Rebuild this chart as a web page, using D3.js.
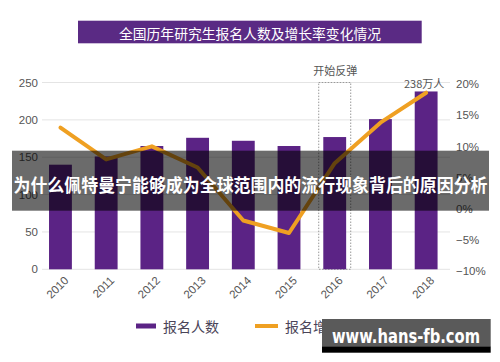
<!DOCTYPE html>
<html><head><meta charset="utf-8">
<script src="https://cdn.jsdelivr.net/npm/d3@7"></script>
<style>
html,body{margin:0;padding:0;background:#fff;}
svg{display:block;font-family:"Noto Sans CJK SC","Noto Sans",sans-serif;}
</style></head>
<body>
<svg id="c" width="500" height="362"></svg>
<script>
const years = ["2010","2011","2012","2013","2014","2015","2016","2017","2018"];
const applicants = [140, 151, 165, 176, 172, 165, 177, 201, 238];
const growth = [13.0, 7.9, 10.0, 6.6, -1.9, -3.9, 7.3, 13.8, 18.6];
const leftTicks = [0, 50, 100, 150, 200, 250];
const rightTicks = [-10, -5, 0, 5, 10, 15, 20];
const title = "全国历年研究生报名人数及增长率变化情况";
const overlayText = "为什么佩特曼宁能够成为全球范围内的流行现象背后的原因分析";
const siteText = "www.hans-fb.com";

const svg = d3.select("#c");
const purple = "#5b2385", orange = "#efa022", textC = "#555";

const x = d3.scaleBand().domain(years).range([37.6, 449]).paddingInner(0.5).paddingOuter(0.25);
const yL = d3.scaleLinear().domain([0, 250]).range([269.3, 82.5]);
const yR = d3.scaleLinear().domain([-10, 20]).range([271, 84]);

// title
svg.append("rect").attr("x", 78).attr("y", 20.7).attr("width", 343.7).attr("height", 22.6).attr("fill", "#5a2a84");
svg.append("text").attr("x", 250).attr("y", 32.5).attr("text-anchor", "middle").attr("dominant-baseline", "central")
  .attr("fill", "#fff").attr("font-size", 14).attr("textLength", 262).attr("lengthAdjust", "spacingAndGlyphs").text(title);

// grid
svg.append("g").selectAll("line").data(leftTicks).join("line")
  .attr("x1", 42).attr("x2", 450).attr("y1", d => yL(d)).attr("y2", d => yL(d))
  .attr("stroke", "#e4e4e4").attr("stroke-width", 1);

// left axis
const gl = svg.append("g").attr("transform", "translate(42,0)")
  .call(d3.axisLeft(yL).tickValues(leftTicks).tickSize(0).tickPadding(4));
gl.select(".domain").remove();
gl.selectAll("text").attr("font-size", 11.5).attr("fill", textC).attr("font-family", "Liberation Sans, Arial, sans-serif");

// right axis
const gr = svg.append("g").attr("transform", "translate(452,0)")
  .call(d3.axisRight(yR).tickValues(rightTicks).tickSize(0).tickPadding(4).tickFormat(d => (d < 0 ? "\u2212" + (-d) : d) + "%"));
gr.select(".domain").remove();
gr.selectAll("text").attr("font-size", 11.5).attr("fill", textC).attr("font-family", "Liberation Sans, Arial, sans-serif");

// dashed highlight box for 2016
const bx = x("2016") + x.bandwidth() / 2;
svg.append("rect").attr("x", bx - 16).attr("y", yL(250)).attr("width", 32).attr("height", yL(0) - yL(250))
  .attr("fill", "none").attr("stroke", "#999").attr("stroke-width", 1).attr("stroke-dasharray", "1.5,1.5");
svg.append("text").attr("x", bx + 0.5).attr("y", 70).attr("text-anchor", "middle").attr("dominant-baseline", "central")
  .attr("font-size", 11).attr("fill", textC).text("开始反弹");

// bars
svg.append("g").selectAll("rect").data(years).join("rect")
  .attr("x", d => x(d)).attr("width", x.bandwidth())
  .attr("y", (d, i) => yL(applicants[i])).attr("height", (d, i) => yL(0) - yL(applicants[i]))
  .attr("fill", purple);

// line
const line = d3.line().x((d, i) => x(years[i]) + x.bandwidth() / 2).y(d => yR(d));
svg.append("path").datum(growth).attr("d", line).attr("fill", "none")
  .attr("stroke", orange).attr("stroke-width", 4).attr("stroke-linejoin", "round").attr("stroke-linecap", "round");

// last label
svg.append("text").attr("x", x("2018") + x.bandwidth() / 2 - 2).attr("y", 82.5).attr("text-anchor", "middle")
  .attr("dominant-baseline", "central").attr("font-size", 11).attr("fill", textC).text(applicants[8] + "万人");

// x axis labels
const gx = svg.append("g").attr("transform", `translate(0,${yL(0)})`)
  .call(d3.axisBottom(x).tickSize(0).tickPadding(0));
gx.select(".domain").remove();
gx.selectAll("text").attr("font-size", 11.5).attr("fill", textC).attr("font-family", "Liberation Sans, Arial, sans-serif")
  .attr("text-anchor", "end").attr("dy", null).attr("y", null)
  .attr("transform", "translate(6,9) rotate(-45)").attr("dominant-baseline", "central");

// legend
const lg = svg.append("g");
lg.append("line").attr("x1", 136).attr("x2", 156).attr("y1", 326).attr("y2", 326).attr("stroke", purple).attr("stroke-width", 5);
lg.append("text").attr("x", 163).attr("y", 326).attr("dominant-baseline", "central").attr("font-size", 14).attr("fill", "#4a4458").text("报名人数");
lg.append("line").attr("x1", 255).attr("x2", 278).attr("y1", 326).attr("y2", 326).attr("stroke", orange).attr("stroke-width", 4);
lg.append("text").attr("x", 285).attr("y", 326).attr("dominant-baseline", "central").attr("font-size", 14).attr("fill", "#4a4458").text("报名增长率");
lg.append("text").attr("x", 387).attr("y", 326).attr("dominant-baseline", "central").attr("font-size", 13.5).attr("fill", "#4a4458").text("单位：万人");

// overlays
svg.append("rect").attr("x", 12).attr("y", 150.7).attr("width", 477).attr("height", 60).attr("fill", "rgba(0,0,0,0.58)");
svg.append("text").attr("x", 250.5).attr("y", 184).attr("text-anchor", "middle").attr("dominant-baseline", "central")
  .attr("fill", "#fff").attr("font-size", 18).attr("font-weight", "bold")
  .attr("textLength", 474).attr("lengthAdjust", "spacingAndGlyphs").text(overlayText);

svg.append("rect").attr("x", 322).attr("y", 319).attr("width", 168.7).attr("height", 28).attr("fill", "#5a5a5a");
svg.append("rect").attr("x", 322).attr("y", 346.7).attr("width", 168.7).attr("height", 6).attr("fill", "#000");
svg.append("text").attr("x", 406).attr("y", 336).attr("text-anchor", "middle").attr("dominant-baseline", "central")
  .attr("fill", "#fff").attr("font-size", 19).attr("font-weight", "bold").attr("font-family", "DejaVu Sans, sans-serif")
  .attr("textLength", 148).attr("lengthAdjust", "spacingAndGlyphs").text(siteText);
</script>
</body></html>
